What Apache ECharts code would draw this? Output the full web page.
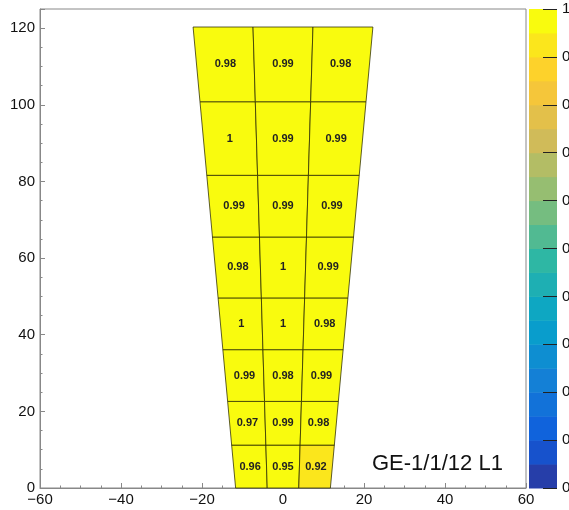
<!DOCTYPE html>
<html>
<head>
<meta charset="utf-8">
<script src="https://cdn.jsdelivr.net/npm/echarts@6/dist/echarts.min.js"></script>
<style>
html,body{margin:0;padding:0;background:#fff;}
#chart{width:569px;height:510px;}
</style>
</head>
<body>
<div id="chart"></div>
<script>
// ---- data ----
// eta-partition (row) boundaries along y, bottom -> top
const rowEdges = [0, 11.2, 22.6, 36.1, 49.6, 65.5, 81.6, 100.8, 120.3];
// chamber half-width at bottom edge and top edge
const chamberHalfWidth = [11.7, 22.2];
// efficiency values, rows bottom -> top, columns left -> right
const efficiency = [
  [0.96, 0.95, 0.92],
  [0.97, 0.99, 0.98],
  [0.99, 0.98, 0.99],
  [1,    1,    0.98],
  [0.98, 1,    0.99],
  [0.99, 0.99, 0.99],
  [1,    0.99, 0.99],
  [0.98, 0.99, 0.98]
];
const xTicks = [-60, -40, -20, 0, 20, 40, 60];
const yTicks = [0, 20, 40, 60, 80, 100, 120];
const zTicks = [0, 0.1, 0.2, 0.3, 0.4, 0.5, 0.6, 0.7, 0.8, 0.9, 1];
const chamberLabel = 'GE-1/1/12 L1';
const nContours = 20;

// ---- kBird palette ----
const birdStops = [0, 0.125, 0.25, 0.375, 0.5, 0.625, 0.75, 0.875, 1];
const birdRGB = [
  [0.2082, 0.1664, 0.5293],
  [0.0592, 0.3599, 0.8684],
  [0.0780, 0.5041, 0.8385],
  [0.0232, 0.6419, 0.7914],
  [0.1802, 0.7178, 0.6425],
  [0.5301, 0.7492, 0.4662],
  [0.8186, 0.7328, 0.3499],
  [0.9956, 0.7862, 0.1968],
  [0.9764, 0.9832, 0.0539]
];
function bird(t) {
  t = Math.max(0, Math.min(1, t));
  let i = 0;
  while (i < birdStops.length - 2 && t > birdStops[i + 1]) i++;
  const f = (t - birdStops[i]) / (birdStops[i + 1] - birdStops[i]);
  const c = [0, 1, 2].map(k => Math.round(255 * (birdRGB[i][k] + f * (birdRGB[i + 1][k] - birdRGB[i][k]))));
  return 'rgb(' + c.join(',') + ')';
}
function bandColor(b) { return bird((b + 0.99) / nContours); }
function valueColor(v) {
  let b = Math.floor(v * nContours + 1e-6);
  b = Math.max(0, Math.min(nContours - 1, b));
  return bandColor(b);
}

// ---- build data ----
const cellData = [];
efficiency.forEach((row, r) => row.forEach((v, c) => cellData.push([r, c, v])));
const bandData = [];
for (let b = 0; b < nContours; b++) bandData.push([b / nContours, (b + 1) / nContours, b]);

const yTop = rowEdges[rowEdges.length - 1];
function hw(y) { return chamberHalfWidth[0] + (chamberHalfWidth[1] - chamberHalfWidth[0]) * y / yTop; }
function xAt(y, frac) { const h = hw(y); return -h + 2 * h * frac; }

const FONT = '"Liberation Sans", Arial, Helvetica, sans-serif';
const AX = '#888';

const chart = echarts.init(document.getElementById('chart'), null, { renderer: 'canvas' });
chart.setOption({
  animation: false,
  backgroundColor: '#fff',
  textStyle: { fontFamily: FONT },
  grid: [
    { left: 40, right: 43, top: 9, bottom: 22, show: true, borderColor: AX, borderWidth: 1,
      backgroundColor: '#fff', containLabel: false, outerBoundsMode: 'none' },
    { left: 529, right: 12, top: 9, bottom: 22, containLabel: false, outerBoundsMode: 'none' }
  ],
  xAxis: [
    {
      type: 'value', gridIndex: 0, min: xTicks[0], max: xTicks[xTicks.length - 1], interval: 20,
      axisLine: { show: true, onZero: false, lineStyle: { color: AX, width: 1 } },
      axisTick: { show: true, inside: true, length: 5, lineStyle: { color: AX } },
      minorTick: { show: true, splitNumber: 4, length: 2.5, lineStyle: { color: AX } },
      splitLine: { show: false },
      axisLabel: {
        margin: 4, fontSize: 15, color: '#111', fontFamily: FONT,
        formatter: v => (xTicks.indexOf(v) < 0 ? '' : (v < 0 ? '\u2212' + (-v) : String(v)))
      }
    },
    { type: 'value', gridIndex: 1, min: 0, max: 1, show: false, axisLine: { onZero: false } }
  ],
  yAxis: [
    {
      type: 'value', gridIndex: 0, min: 0, max: 125, interval: 20, position: 'left',
      axisLine: { show: true, onZero: false, lineStyle: { color: AX, width: 1 } },
      axisTick: { show: true, inside: true, length: 5, lineStyle: { color: AX } },
      splitLine: { show: false },
      axisLabel: {
        margin: 5, fontSize: 15, color: '#111', fontFamily: FONT,
        formatter: v => (yTicks.indexOf(v) < 0 ? '' : String(v))
      }
    },
    {
      type: 'value', gridIndex: 0, min: 0, max: 125, interval: 5, position: 'left',
      axisLine: { show: false, onZero: false },
      axisTick: { show: true, inside: true, length: 2.5, lineStyle: { color: AX } },
      axisLabel: { show: false },
      splitLine: { show: false }
    },
    {
      type: 'value', gridIndex: 1, min: 0, max: 1, interval: 0.1, position: 'right', z: 10,
      axisLine: { show: false, onZero: false },
      axisTick: { show: true, inside: true, length: 14, lineStyle: { color: '#222', width: 1 } },
      splitLine: { show: false },
      axisLabel: {
        margin: 5, fontSize: 15, color: '#111', fontFamily: FONT,
        formatter: v => {
          const r = Math.round(v * 10) / 10;
          const m = zTicks.find(t => Math.abs(t - r) < 1e-6);
          return m === undefined ? '' : String(m);
        }
      }
    }
  ],
  series: [
    {
      type: 'custom', xAxisIndex: 1, yAxisIndex: 2, data: bandData, z: 1,
      renderItem: (params, api) => {
        const lo = api.value(0), hi = api.value(1), b = api.value(2);
        const p0 = api.coord([0, lo]), p1 = api.coord([1, hi]);
        return {
          type: 'rect',
          shape: { x: p0[0], y: p1[1], width: p1[0] - p0[0], height: p0[1] - p1[1] + 0.5 },
          style: { fill: bandColor(b), stroke: null }
        };
      }
    },
    {
      type: 'custom', xAxisIndex: 0, yAxisIndex: 0, data: cellData, z: 5,
      renderItem: (params, api) => {
        const r = api.value(0), c = api.value(1), v = api.value(2);
        const y0 = rowEdges[r], y1 = rowEdges[r + 1];
        const f0 = c / 3, f1 = (c + 1) / 3;
        const pts = [
          api.coord([xAt(y0, f0), y0]),
          api.coord([xAt(y0, f1), y0]),
          api.coord([xAt(y1, f1), y1]),
          api.coord([xAt(y1, f0), y1])
        ];
        const ym = (y0 + y1) / 2;
        const center = api.coord([xAt(ym, (f0 + f1) / 2), ym]);
        return {
          type: 'group',
          children: [
            {
              type: 'polygon', shape: { points: pts },
              style: { fill: valueColor(v), stroke: 'rgba(40,40,0,0.75)', lineWidth: 1 }
            },
            {
              type: 'text',
              style: {
                x: center[0], y: center[1], text: String(v),
                align: 'center', verticalAlign: 'middle',
                font: 'bold 11px ' + FONT, fill: '#222'
              }
            }
          ]
        };
      }
    }
  ],
  graphic: [
    {
      type: 'text', left: 372, top: 453, z: 10,
      style: { text: chamberLabel, font: '22px ' + FONT, fill: '#111' }
    }
  ]
});
</script>
</body>
</html>
